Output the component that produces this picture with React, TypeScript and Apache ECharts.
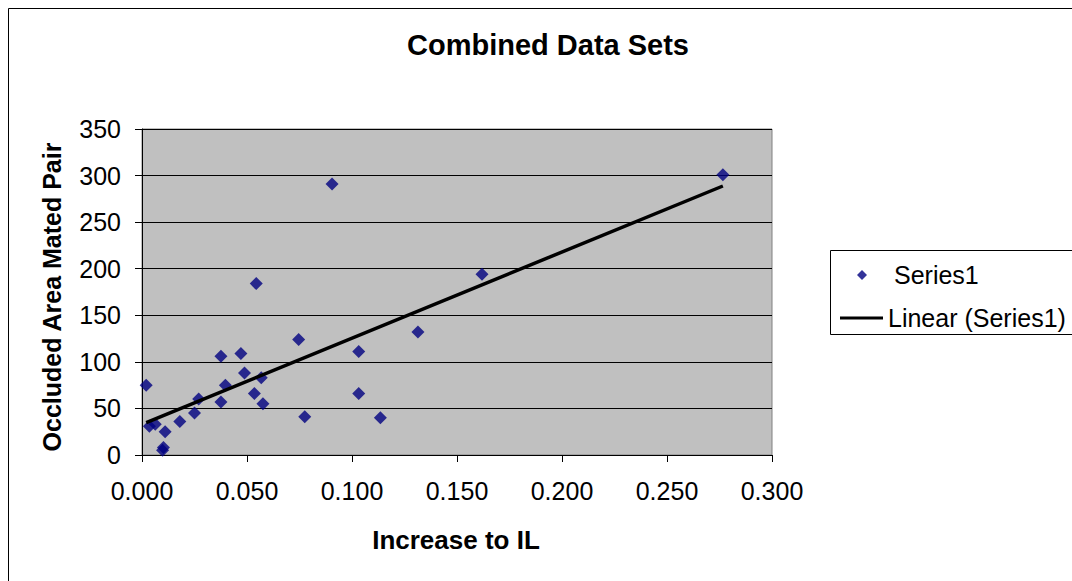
import React, { useEffect, useRef } from "react";
import * as echarts from "echarts";

const xValues = [0.002, 0.0035, 0.0063, 0.011, 0.0098, 0.0102, 0.018, 0.025, 0.027, 0.0376, 0.0376, 0.0397, 0.0471, 0.0488, 0.0544, 0.0535, 0.0568, 0.0576, 0.0746, 0.0775, 0.0905, 0.1032, 0.1032, 0.1135, 0.1314, 0.1619, 0.2766];
const yValues = [75, 31, 33, 25, 5, 8, 36, 45, 60, 106, 57, 75, 109, 88, 184, 66, 83, 55, 124, 41, 291, 111, 66, 40, 132, 194, 301];

const seriesName = "Series1";
const trendName = "Linear (Series1)";
const titleText = "Combined Data Sets";
const xName = "Increase to IL";
const yName = "Occluded Area Mated Pair";

const FONT = "Arial, 'Liberation Sans', sans-serif";

function linearFit(xs: number[], ys: number[]) {
  const n = xs.length;
  const mx = xs.reduce((a, b) => a + b, 0) / n;
  const my = ys.reduce((a, b) => a + b, 0) / n;
  let sxy = 0, sxx = 0;
  for (let i = 0; i < n; i++) {
    sxy += (xs[i] - mx) * (ys[i] - my);
    sxx += (xs[i] - mx) * (xs[i] - mx);
  }
  const slope = sxy / sxx;
  return { slope, intercept: my - slope * mx };
}

export default function App() {
  const ref = useRef<HTMLDivElement>(null);
  useEffect(() => {
    if (!ref.current) return;
    const chart = echarts.init(ref.current, undefined, { renderer: "svg" });
    const points = xValues.map((x, i) => [x, yValues[i]]);
    const { slope, intercept } = linearFit(xValues, yValues);
    const xmin = Math.min(...xValues);
    const xmax = Math.max(...xValues);
    const trend = [
      [xmin, intercept + slope * xmin],
      [xmax, intercept + slope * xmax],
    ];
    const legendText = { fontFamily: FONT, fontSize: 25, color: "#000", lineHeight: 28 };
    chart.setOption({
      animation: false,
      backgroundColor: "#ffffff",
      title: {
        text: titleText,
        left: 407,
        top: 30,
        padding: 0,
        textStyle: { fontFamily: FONT, fontSize: 29, fontWeight: "bold", color: "#000" },
      },
      grid: {
        left: 142,
        right: 300,
        top: 129,
        bottom: 126,
        show: true,
        backgroundColor: "#C0C0C0",
        borderColor: "#808080",
        borderWidth: 1,
      },
      legend: [
        {
          left: 857,
          top: 261,
          padding: 0,
          itemWidth: 54,
          itemHeight: 10,
          symbolKeepAspect: true,
          data: [{ name: seriesName, icon: "path://M0,-1 L1,0 L0,1 L-1,0 Z" }],
          textStyle: legendText,
        },
        {
          left: 840,
          top: 304,
          padding: 0,
          itemWidth: 43,
          itemHeight: 10,
          symbolKeepAspect: true,
          data: [{ name: trendName, icon: "path://M0,0 H43 V3 H0 Z" }],
          textStyle: legendText,
        },
      ],
      xAxis: {
        type: "value",
        min: 0,
        max: 0.3,
        interval: 0.05,
        axisLine: { lineStyle: { color: "#000", width: 1 } },
        axisTick: { show: true, length: 7, lineStyle: { color: "#000" } },
        splitLine: { show: false },
        axisLabel: {
          margin: 23,
          fontFamily: FONT,
          fontSize: 25,
          color: "#000",
          formatter: (v: number) => v.toFixed(3),
        },
      },
      yAxis: {
        type: "value",
        min: 0,
        max: 350,
        interval: 50,
        axisLine: { show: true, lineStyle: { color: "#000", width: 1 } },
        axisTick: { show: true, length: 7, lineStyle: { color: "#000" } },
        splitLine: { show: true, lineStyle: { color: "#000", width: 1 } },
        axisLabel: { margin: 21, fontFamily: FONT, fontSize: 25, color: "#000" },
      },
      graphic: [
        {
          type: "rect",
          shape: { x: 8.5, y: 8.5, width: 1200, height: 800 },
          style: { fill: "rgba(0,0,0,0)", stroke: "#000", lineWidth: 1 },
          silent: true,
        },
        {
          type: "rect",
          shape: { x: 830.5, y: 250.5, width: 300, height: 84 },
          style: { fill: "rgba(0,0,0,0)", stroke: "#000", lineWidth: 1 },
          silent: true,
        },
        {
          type: "text",
          x: 456,
          y: 540,
          style: {
            text: xName,
            fontFamily: FONT,
            fontSize: 26,
            fontWeight: "bold",
            fill: "#000",
            align: "center",
            verticalAlign: "middle",
          },
        },
        {
          type: "text",
          x: 52,
          y: 297,
          rotation: Math.PI / 2,
          style: {
            text: yName,
            fontFamily: FONT,
            fontSize: 25,
            fontWeight: "bold",
            fill: "#000",
            align: "center",
            verticalAlign: "middle",
          },
        },
      ],
      series: [
        {
          name: seriesName,
          type: "scatter",
          symbol: "diamond",
          symbolSize: 13,
          itemStyle: { color: "#000080" },
          data: points,
          z: 3,
        },
        {
          name: trendName,
          type: "line",
          showSymbol: false,
          symbol: "none",
          lineStyle: { color: "#000", width: 3.5 },
          itemStyle: { color: "#000" },
          data: trend,
          z: 4,
        },
      ],
    });
    return () => chart.dispose();
  }, []);
  return (
    <div
      ref={ref}
      style={{ position: "absolute", left: 0, top: 0, width: 1072, height: 581, background: "#fff" }}
    />
  );
}
